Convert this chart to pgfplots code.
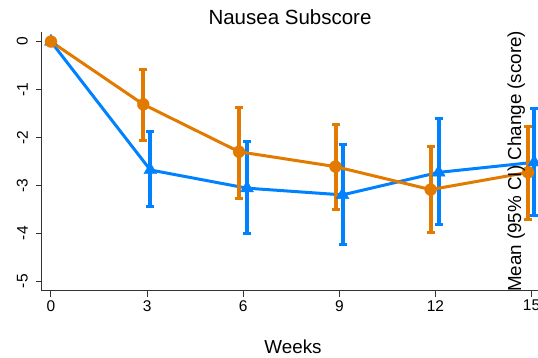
\documentclass[border=0pt]{standalone}
\usepackage{pgfplots}
\pgfplotsset{compat=1.18}
\usepackage{pgfplotstable}
\usepackage{fontspec}
\setmainfont{Liberation Sans}
\definecolor{cblue}{RGB}{0,130,255}
\definecolor{corange}{RGB}{226,122,0}
\pgfplotstableread{
x y ep em
0 0 0 0
3.1 -2.68 0.80 0.77
6.12 -3.06 0.97 0.94
9.1 -3.20 1.06 1.04
12.1 -2.73 1.12 1.08
15.08 -2.52 1.13 1.12
}\bluedata
\pgfplotstableread{
x y ep em
0 0 0 0
2.88 -1.31 0.73 0.76
5.87 -2.30 0.93 0.97
8.88 -2.61 0.88 0.89
11.85 -3.09 0.89 0.89
14.89 -2.73 0.96 0.99
}\orangedata
\begin{document}
\begin{tikzpicture}[x=1pt,y=1pt]
\begin{axis}[
  at={(42pt,67.3pt)}, anchor=south west,
  width=496pt, height=258.7pt, scale only axis,
  xmin=-0.28, xmax=15.2, ymin=-5.2, ymax=0.2,
  axis lines=left,
  axis line style={black!80, line width=1pt, -},
  xtick={0,3,6,9,12,15}, ytick={-5,-4,-3,-2,-1,0},
  tick align=outside, major tick length=6pt,
  tick style={black!80, line width=1pt},
  tick label style={font=\fontsize{15.5}{18}\selectfont},
  /pgf/number format/assume math mode=true,
  yticklabel style={rotate=90, anchor=south, inner sep=2pt},
  yticklabel shift=6pt,
  title={Nausea Subscore},
  every axis title/.style={at={(0.5,1)}, anchor=center, yshift=15pt, font=\fontsize{20.5}{24}\selectfont},
  xlabel={Weeks},
  every axis x label/.style={at={(0.5,0)}, anchor=center, yshift=-56pt, xshift=3pt, font=\fontsize{18.8}{22}\selectfont},
  ylabel={Mean (95\% CI) Change (score)},
  every axis y label/.style={at={(0.956,0.5)}, rotate=90, anchor=center, font=\fontsize{18.8}{22}\selectfont},
  clip=false,
]
\addplot[cblue, line width=3pt, mark=triangle*, mark size=7.5pt, mark options={solid, line width=0.3pt},
  error bars/.cd, y dir=both, y explicit,
  error bar style={line width=4pt},
  error mark options={rotate=90, line width=3pt, mark size=4pt}]
  table[x=x, y=y, y error plus=ep, y error minus=em]{\bluedata};
\addplot[corange, line width=3pt, mark=*, mark size=6pt, mark options={solid, line width=0.3pt},
  error bars/.cd, y dir=both, y explicit,
  error bar style={line width=4pt},
  error mark options={rotate=90, line width=3pt, mark size=4pt}]
  table[x=x, y=y, y error plus=ep, y error minus=em]{\orangedata};
\end{axis}
\pgfresetboundingbox
\path[use as bounding box] (0,0) rectangle (538,358);
\end{tikzpicture}
\end{document}
